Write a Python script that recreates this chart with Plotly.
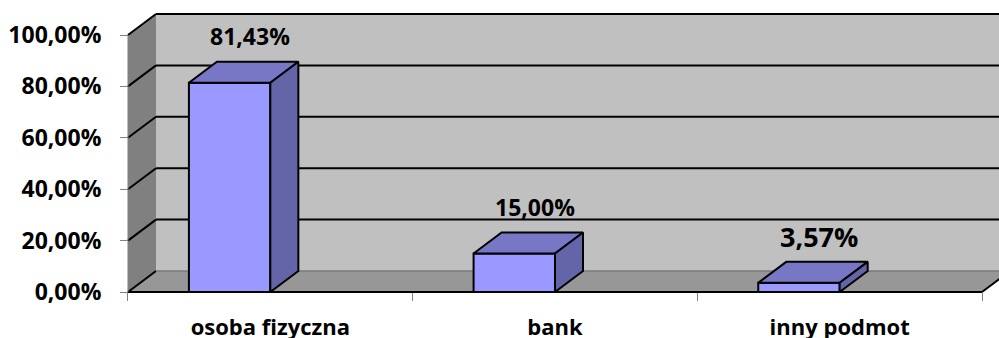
import plotly.graph_objects as go

# ---------------- data ----------------
categories = ["osoba fizyczna", "bank", "inny podmot"]
values = [81.43, 15.00, 3.57]
value_labels = ["81,43%", "15,00%", "3,57%"]
y_ticks = [0, 20, 40, 60, 80, 100]
y_tick_labels = ["0,00%", "20,00%", "40,00%", "60,00%", "80,00%", "100,00%"]

# ---------------- style / geometry ----------------
W, H = 999, 338
FONT = "Open Sans"
DX = 0.0984          # depth offset along x (category units)
DY = 8.17            # depth offset along y (% units)
X_LEFT, X_RIGHT = -0.5, len(categories) - 0.5
BAR_L, BAR_R = -0.286, 0.0   # bar front face, relative to category index
X_RANGE = [-0.9496, 2.5597]
Y_RANGE = [-17.9, 113.62]

FRONT = "#9999FF"
TOP = "#7777C6"
SIDE = "#6464A8"
BACK_WALL = "#C0C0C0"
SIDE_WALL = "#808080"
FLOOR = "#979797"

fig = go.Figure()
shapes = []


def path(pts):
    return "M " + " L ".join(f"{x},{y}" for x, y in pts) + " Z"


def line(x0, y0, x1, y1, color="black", width=2):
    shapes.append(dict(type="line", xref="x", yref="y", x0=x0, y0=y0, x1=x1, y1=y1,
                       line=dict(color=color, width=width), layer="below"))


far = X_RIGHT + DX + 0.3
# back wall
shapes.append(dict(type="path", xref="x", yref="y", layer="below", line=dict(width=0),
                   fillcolor=BACK_WALL,
                   path=path([(X_LEFT + DX, DY), (far, DY), (far, 100 + DY), (X_LEFT + DX, 100 + DY)])))
# side wall
shapes.append(dict(type="path", xref="x", yref="y", layer="below", line=dict(width=0),
                   fillcolor=SIDE_WALL,
                   path=path([(X_LEFT, 0), (X_LEFT + DX, DY), (X_LEFT + DX, 100 + DY), (X_LEFT, 100)])))
# floor
shapes.append(dict(type="path", xref="x", yref="y", layer="below", line=dict(width=0),
                   fillcolor=FLOOR,
                   path=path([(X_LEFT, 0), (X_RIGHT, 0), (X_RIGHT + DX, DY), (X_LEFT + DX, DY)])))
# gridlines
for t in y_ticks:
    line(X_LEFT, t, X_LEFT + DX, t + DY)
    line(X_LEFT + DX, t + DY, far, t + DY, color="#7a7a7a" if t == 0 else "black",
         width=1.5 if t == 0 else 2)
# floor front edge and right edge
line(X_LEFT, 0, X_RIGHT, 0)
line(X_RIGHT, 0, X_RIGHT + DX, DY)
# y axis line
line(X_LEFT, 0, X_LEFT, 100, color="#808080", width=1)

# bars
for i, v in enumerate(values):
    l, r = i + BAR_L, i + BAR_R
    faces = [
        ([l, r, r, l, l], [0, 0, v, v, 0], FRONT),
        ([l, r, r + DX, l + DX, l], [v, v, v + DY, v + DY, v], TOP),
        ([r, r + DX, r + DX, r, r], [0, DY, v + DY, v, 0], SIDE),
    ]
    for xs, ys, col in faces:
        fig.add_trace(go.Scatter(x=xs, y=ys, mode="lines", fill="toself", fillcolor=col,
                                 line=dict(color="black", width=2), hoverinfo="skip",
                                 showlegend=False))

# data labels
annotations = []
for i, (v, txt) in enumerate(zip(values, value_labels)):
    size = 27 if i == 2 else 23
    annotations.append(dict(x=i - 0.072, y=v + 18, xref="x", yref="y", text=txt,
                            showarrow=False, xanchor="center", yanchor="middle",
                            font=dict(family=FONT, size=size, color="black", weight="bold")))

fig.update_layout(
    width=W, height=H, autosize=False,
    margin=dict(l=0, r=0, t=0, b=0, pad=0),
    paper_bgcolor="white", plot_bgcolor="white",
    shapes=shapes, annotations=annotations,
    xaxis=dict(range=X_RANGE, showgrid=False, zeroline=False, showline=False,
               automargin=False,
               tickmode="array", tickvals=list(range(len(categories))), ticktext=categories,
               ticks="outside", ticklen=8, tickcolor="rgba(0,0,0,0)",
               minor=dict(tickmode="array", tickvals=[X_LEFT + k for k in range(len(categories) + 1)],
                          ticks="outside", ticklen=8, tickcolor="#808080", tickwidth=1, showgrid=False),
               ticklabelstandoff=8,
               tickfont=dict(family=FONT, size=22, color="black", weight="bold"),
               anchor="free", position=(H - 292) / H),
    yaxis=dict(range=Y_RANGE, showgrid=False, zeroline=False, showline=False,
               automargin=False,
               tickmode="array", tickvals=y_ticks, ticktext=y_tick_labels,
               ticks="outside", ticklen=8, tickcolor="#808080", tickwidth=1,
               ticklabelstandoff=14,
               tickfont=dict(family=FONT, size=23, color="black", weight="bold"),
               anchor="free", position=128 / W),
)

fig.write_html("out.html")
